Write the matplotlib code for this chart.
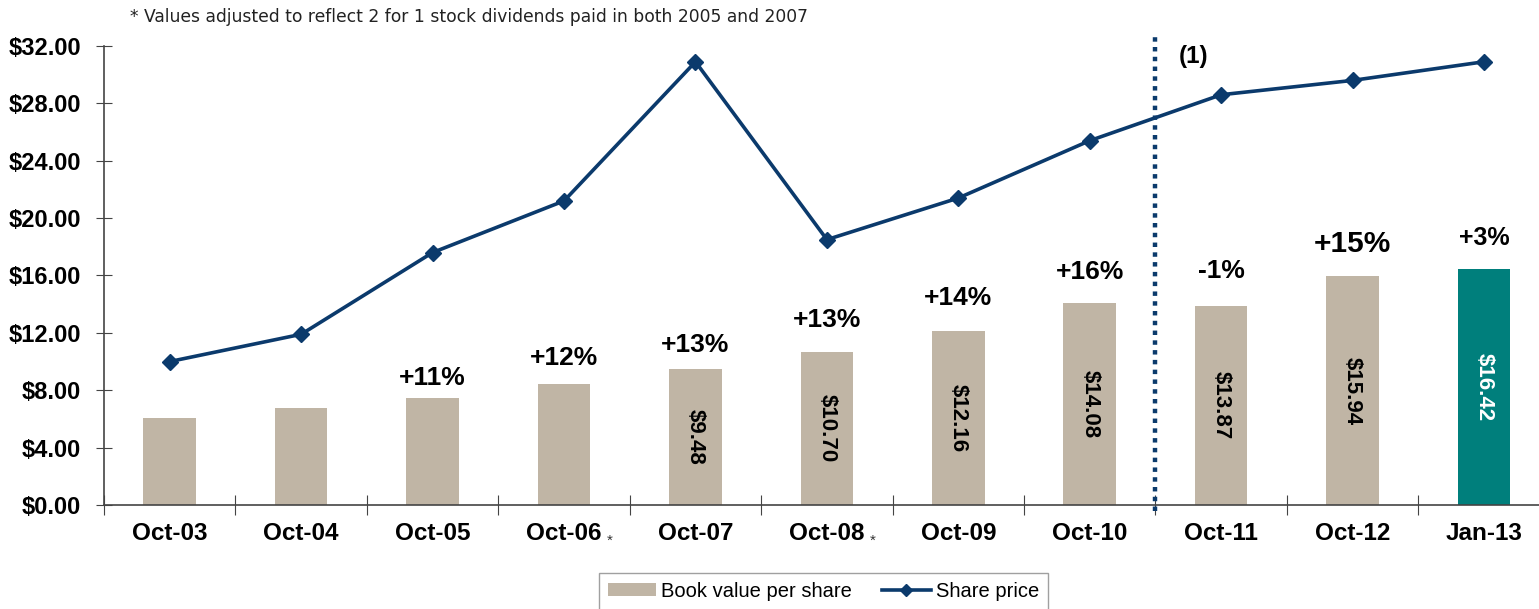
import matplotlib
matplotlib.use("Agg")
import matplotlib.pyplot as plt
from matplotlib.lines import Line2D
from matplotlib.patches import Patch

# Data
periods = ["Oct-03", "Oct-04", "Oct-05", "Oct-06", "Oct-07", "Oct-08",
           "Oct-09", "Oct-10", "Oct-11", "Oct-12", "Jan-13"]
book_value = [6.08, 6.74, 7.48, 8.40, 9.48, 10.70, 12.16, 14.08, 13.87, 15.94, 16.42]
share_price = [10.0, 11.9, 17.6, 21.2, 30.9, 18.5, 21.4, 25.4, 28.6, 29.6, 30.9]
growth_labels = ["", "", "+11%", "+12%", "+13%", "+13%", "+14%", "+16%", "-1%", "+15%", "+3%"]
value_labels = ["", "", "", "", "$9.48", "$10.70", "$12.16", "$14.08", "$13.87", "$15.94", "$16.42"]
starred = ["Oct-06", "Oct-08"]
y_ticks = [0, 4, 8, 12, 16, 20, 24, 28, 32]
footnote = "* Values adjusted to reflect 2 for 1 stock dividends paid in both 2005 and 2007"

BAR = "#C0B5A5"
TEAL = "#007F7C"
NAVY = "#0B3A6C"

plt.rcParams["font.family"] = ["Liberation Sans", "DejaVu Sans"]

fig = plt.figure(figsize=(15.39, 6.09), dpi=100)
ax = fig.add_axes([0.0676, 0.1708, 0.9394, 0.7537])

x = list(range(len(periods)))
colors = [BAR] * (len(periods) - 1) + [TEAL]
ax.bar(x, book_value, width=0.40, color=colors, zorder=2)
ax.plot(x, share_price, color=NAVY, lw=2.6, marker="D", ms=8, zorder=4)

ax.set_xlim(-0.5, len(periods) - 0.5)
ax.set_ylim(0, 32)
ax.set_yticks(y_ticks)
ax.set_yticklabels([f"${v:.2f}" for v in y_ticks], fontsize=17, fontweight="bold")
ax.set_xticks([i + 0.5 for i in range(-1, len(periods))])
ax.set_xticklabels([])
ax.set_xticks(x, minor=True)
ax.set_xticklabels(periods, minor=True, fontsize=17.5, fontweight="bold")
ax.tick_params(axis="x", which="minor", length=0, pad=12)
ax.tick_params(axis="x", which="major", direction="inout", length=14, color="#444444")
ax.tick_params(axis="y", direction="inout", length=11, color="#444444", pad=11)

for side in ("top", "right"):
    ax.spines[side].set_visible(False)
for side in ("left", "bottom"):
    ax.spines[side].set_color("#444444")
    ax.spines[side].set_linewidth(1.2)

# Small stars next to adjusted periods
for i, p in enumerate(periods):
    if p in starred:
        ax.annotate("*", xy=(i, 0), xycoords=("data", "axes fraction"),
                    xytext=(43, -36), textcoords="offset pixels",
                    ha="left", va="center", fontsize=11, color="#333333")

# Growth labels above bars
growth_sizes = [19, 19, 19, 19, 19, 19, 19, 19, 19, 21.5, 18]
growth_lift = [0, 0, 8, 14, 12, 20, 21, 19, 23, 18, 19]
for i, (v, lab) in enumerate(zip(book_value, growth_labels)):
    if lab:
        ax.annotate(lab, xy=(i, v), xytext=(0, growth_lift[i]),
                    textcoords="offset pixels", ha="center", va="bottom",
                    fontsize=growth_sizes[i], fontweight="bold")

# Values inside bars
for i, (v, lab) in enumerate(zip(book_value, value_labels)):
    if lab:
        ax.text(i, v / 2, lab, rotation=270, ha="center", va="center",
                fontsize=16, fontweight="bold",
                color="white" if colors[i] == TEAL else "black")

# Divider between Oct-10 and Oct-11
ax.plot([7.5, 7.5], [-0.4, 32.6], ls=(0, (1, 1.2)), lw=3.2, color=NAVY,
        clip_on=False, zorder=3)
ax.text(7.68, 31.3, "(1)", fontsize=17.5, fontweight="bold", ha="left", va="center")

fig.text(0.0845, 0.972, footnote, fontsize=12.3, family="DejaVu Sans",
         ha="left", va="center", color="#222222")

handles = [Patch(facecolor=BAR, edgecolor="none"),
           Line2D([], [], color=NAVY, lw=2.6, marker="D", ms=6)]
leg = fig.legend(handles, ["Book value per share", "Share price"],
                 loc="upper center", bbox_to_anchor=(0.535, 0.076), ncol=2,
                 fontsize=14.5, frameon=True, fancybox=False, edgecolor="#888888",
                 handlelength=2.4, handleheight=0.6, columnspacing=1.5,
                 handletextpad=0.25, borderpad=0.45)
leg.get_frame().set_linewidth(1.0)

fig.savefig("out.png", dpi=100)
